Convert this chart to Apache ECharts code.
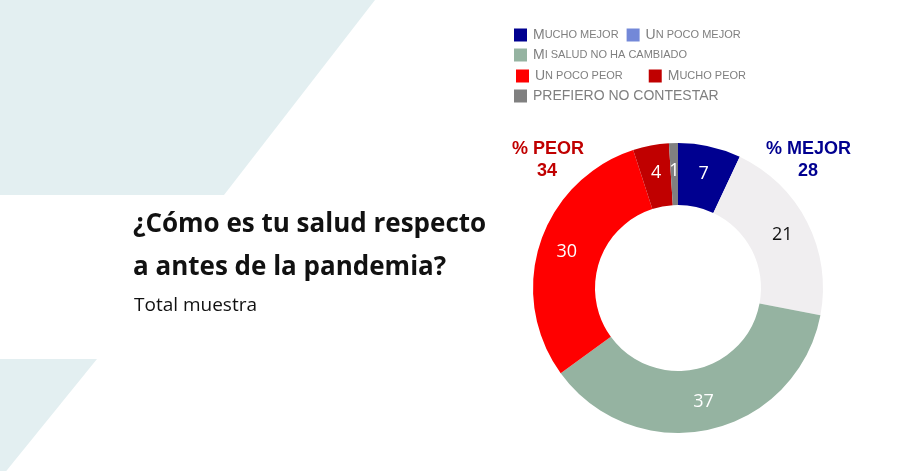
<!DOCTYPE html>
<html><head><meta charset="utf-8">
<script src="https://cdn.jsdelivr.net/npm/echarts@6/dist/echarts.min.js"></script>
<style>html,body{margin:0;padding:0;background:#fff}#c{width:900px;height:471px}</style>
</head><body><div id="c"></div>
<script>
const categories = ['Mucho mejor','Un poco mejor','Mi salud no ha cambiado','Un poco peor','Mucho peor','PREFIERO NO CONTESTAR'];
const values = [7, 21, 37, 30, 4, 1];
const sliceColors = ['#000090','#f0eef0','#95b3a1','#ff0000','#c00000','#808080'];
const legendColors = ['#000090','#7388d8','#95b3a1','#ff0000','#c00000','#808080'];
const labelColors = ['#fff','#111','#fff','#fff','#fff','#fff'];
const titleLines = ['¿Cómo es tu salud respecto','a antes de la pandemia?'];
const subtitle = 'Total muestra';

const mejor = values[0] + values[1];
const peor = values[3] + values[4];

function smallCaps(name){
  if (name === name.toUpperCase()) return '{big|' + name + '}';
  return '{big|' + name[0].toUpperCase() + '}{sm|' + name.slice(1).toUpperCase() + '}';
}
const legendRich = {
  big:{fontFamily:'Liberation Sans',fontSize:14,color:'#7f7f7f'},
  sm:{fontFamily:'Liberation Sans',fontSize:11,color:'#7f7f7f'}
};
function leg(names, left, top, gap){
  return {
    left:left, top:top, orient:'horizontal', icon:'rect', itemWidth:13, itemHeight:13, itemGap:gap||10,
    selectedMode:false, padding:0,
    data: names.map(n => ({name:n, itemStyle:{color:legendColors[categories.indexOf(n)]}})),
    formatter: smallCaps,
    textStyle:{rich:legendRich, padding:[0,0,0,1]}
  };
}

const chart = echarts.init(document.getElementById('c'));
chart.setOption({
  animation:false,
  legend:[
    leg([categories[0],categories[1]], 514, 28, 8),
    leg([categories[2]], 514, 48),
    leg([categories[3],categories[4]], 516, 69, 26),
    leg([categories[5]], 514, 89)
  ],
  graphic:[
    {type:'polygon', z:-10, shape:{points:[[0,0],[375,0],[224,195],[0,195]]}, style:{fill:'#e3eff1'}},
    {type:'polygon', z:-10, shape:{points:[[0,359],[97,359],[3,475],[0,475]]}, style:{fill:'#e3eff1'}},
    {type:'text', left:133, top:212, style:{text:titleLines[0], font:'bold 26px "Open Sans"', fill:'#111'}},
    {type:'text', left:133, top:255, style:{text:titleLines[1], font:'bold 26px "Open Sans"', fill:'#111'}},
    {type:'text', left:134, top:296, style:{text:subtitle, font:'19px "Open Sans"', fill:'#111'}},
    {type:'text', left:512, top:140, style:{text:'% PEOR', font:'bold 18px "Liberation Sans"', fill:'#c00000'}},
    {type:'text', left:537, top:162, style:{text:String(peor), font:'bold 18px "Liberation Sans"', fill:'#c00000'}},
    {type:'text', left:766, top:140, style:{text:'% MEJOR', font:'bold 18px "Liberation Sans"', fill:'#000090'}},
    {type:'text', left:798, top:162, style:{text:String(mejor), font:'bold 18px "Liberation Sans"', fill:'#000090'}}
  ],
  series:[{
    type:'pie',
    center:[678,288],
    radius:[83,145],
    startAngle:90,
    clockwise:true,
    silent:true,
    data: categories.map((c,i) => ({
      name:c, value:values[i],
      itemStyle:{color:sliceColors[i]},
      label:{color:labelColors[i]}
    })),
    label:{show:true, position:'inside', formatter:'{c}', fontFamily:'Open Sans', fontSize:18},
    labelLine:{show:false}
  }]
});
</script></body></html>
